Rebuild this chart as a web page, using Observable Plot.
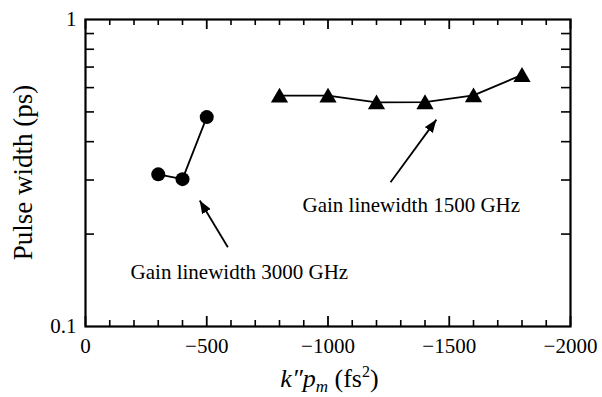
<!DOCTYPE html>
<html>
<head>
<meta charset="utf-8">
<script src="https://cdn.jsdelivr.net/npm/d3@7"></script>
<script src="https://cdn.jsdelivr.net/npm/@observablehq/plot@0.6"></script>
<style>
  html, body { margin: 0; padding: 0; background: #fff; }
  svg { display: block; }
</style>
</head>
<body>
<div id="chart"></div>
<script>
// Pulse width versus net dispersion k''p_m for two gain linewidths
const circleK = [-300, -400, -500];
const circleWidth = [0.313, 0.302, 0.481];            // 3000 GHz
const triK = [-800, -1000, -1200, -1400, -1600, -1800];
const triWidth = [0.565, 0.565, 0.537, 0.538, 0.566, 0.66]; // 1500 GHz

// Tick values
const xMajor = [0, -500, -1000, -1500, -2000];
const xMinor = [-100, -200, -300, -400, -600, -700, -800, -900, -1100, -1200, -1300, -1400,
                -1600, -1700, -1800, -1900];
const yMajor = [0.1, 1];
const yMinor = [0.2, 0.3, 0.4, 0.5, 0.6, 0.7, 0.8, 0.9];

// Annotations: text labels and their pointer arrows
const noteText = ["Gain linewidth 1500 GHz", "Gain linewidth 3000 GHz"];
const noteK = [-895, -186];
const noteWidth = [0.248, 0.1503];
const arrowK1 = [-1258, -587];
const arrowW1 = [0.295, 0.1813];
const arrowK2 = [-1447, -471];
const arrowW2 = [0.472, 0.2573];

const circles = circleK.map((k, i) => ({k, w: circleWidth[i]}));
const triangles = triK.map((k, i) => ({k, w: triWidth[i]}));
const notes = noteText.map((t, i) => ({t, k: noteK[i], w: noteWidth[i]}));
const arrows = arrowK1.map((k, i) => ({k1: k, w1: arrowW1[i], k2: arrowK2[i], w2: arrowW2[i]}));

const W = 602, H = 397;
const M = {top: 19, right: 32, bottom: 71, left: 85};
const plotW = W - M.left - M.right;
const plotH = H - M.top - M.bottom;
const font = "Liberation Serif, Times New Roman, serif";

// Solid filled arrowhead marker
function filledHead(color, context) {
  const doc = context && context.document ? context.document : document;
  const ns = "http://www.w3.org/2000/svg";
  const m = doc.createElementNS(ns, "marker");
  m.setAttribute("viewBox", "-13 -5 13 10");
  m.setAttribute("markerWidth", "13");
  m.setAttribute("markerHeight", "10");
  m.setAttribute("markerUnits", "userSpaceOnUse");
  m.setAttribute("orient", "auto");
  m.setAttribute("refX", "0");
  m.setAttribute("refY", "0");
  const p = doc.createElementNS(ns, "path");
  p.setAttribute("d", "M-13,-5L0,0L-13,5Z");
  p.setAttribute("fill", color);
  p.setAttribute("stroke", "none");
  m.appendChild(p);
  return m;
}

const plot = Plot.plot({
  width: W,
  height: H,
  marginTop: M.top,
  marginRight: M.right,
  marginBottom: M.bottom,
  marginLeft: M.left,
  style: {fontFamily: font, fontSize: "21px", color: "#000", background: "#fff"},
  x: {domain: [0, -2000], range: [M.left, W - M.right]},
  y: {type: "log", domain: [0.1, 1]},
  marks: [
    // minor/major ticks pointing inward on all four sides
    Plot.tickX(xMinor, {x: d => d, insetTop: plotH - 6, strokeWidth: 1.6}),
    Plot.tickX(xMinor, {x: d => d, insetBottom: plotH - 6, strokeWidth: 1.6}),
    Plot.tickX(xMajor, {x: d => d, insetTop: plotH - 10, strokeWidth: 1.8}),
    Plot.tickX(xMajor, {x: d => d, insetBottom: plotH - 10, strokeWidth: 1.8}),
    Plot.tickY(yMinor, {y: d => d, insetRight: plotW - 9, strokeWidth: 1.6}),
    Plot.tickY(yMinor, {y: d => d, insetLeft: plotW - 9, strokeWidth: 1.6}),
    Plot.frame({stroke: "#000", strokeWidth: 2.2}),
    Plot.axisX(xMajor, {
      tickSize: 0, tickPadding: 12, fontSize: 21, fontFamily: font,
      tickFormat: d => d === 0 ? "0" : "\u2212" + Math.abs(d),
      label: null
    }),
    Plot.axisY(yMajor, {
      tickSize: 0, tickPadding: 9, fontSize: 21, fontFamily: font,
      tickFormat: d => String(d),
      label: null
    }),
    // data
    Plot.line(circles, {x: "k", y: "w", stroke: "#000", strokeWidth: 1.8}),
    Plot.dot(circles, {x: "k", y: "w", r: 7, fill: "#000", stroke: null}),
    Plot.line(triangles, {x: "k", y: "w", stroke: "#000", strokeWidth: 1.8}),
    Plot.dot(triangles, {x: "k", y: "w", symbol: "triangle", r: 6.4, dy: 2, fill: "#000", stroke: null}),
    // annotations
    Plot.link(arrows, {x1: "k1", y1: "w1", x2: "k2", y2: "w2", stroke: "#000", strokeWidth: 1.8, markerEnd: filledHead}),
    Plot.text(notes, {x: "k", y: "w", text: "t", textAnchor: "start", fontSize: 21, fontFamily: font, fill: "#000"})
  ]
});

const svg = d3.select(plot);

// y-axis title, rotated, centred on the frame
svg.append("text")
  .attr("transform", `translate(32,${M.top + plotH / 2}) rotate(-90)`)
  .attr("text-anchor", "middle")
  .attr("font-family", font)
  .attr("font-size", 27)
  .attr("fill", "#000")
  .text("Pulse width (ps)");

// x-axis title with italic symbols, subscript and superscript
const xt = svg.append("text")
  .attr("x", M.left + plotW / 2 + 2)
  .attr("y", 387)
  .attr("text-anchor", "middle")
  .attr("font-family", font)
  .attr("font-size", 26)
  .attr("fill", "#000");
xt.append("tspan").attr("font-style", "italic").text("k\u2033p");
xt.append("tspan").attr("font-style", "italic").attr("font-size", 17).attr("dy", 5).text("m");
xt.append("tspan").attr("dy", -5).text(" (fs");
xt.append("tspan").attr("font-size", 16).attr("dy", -10).text("2");
xt.append("tspan").attr("dy", 10).text(")");

document.getElementById("chart").appendChild(plot);
</script>
</body>
</html>
